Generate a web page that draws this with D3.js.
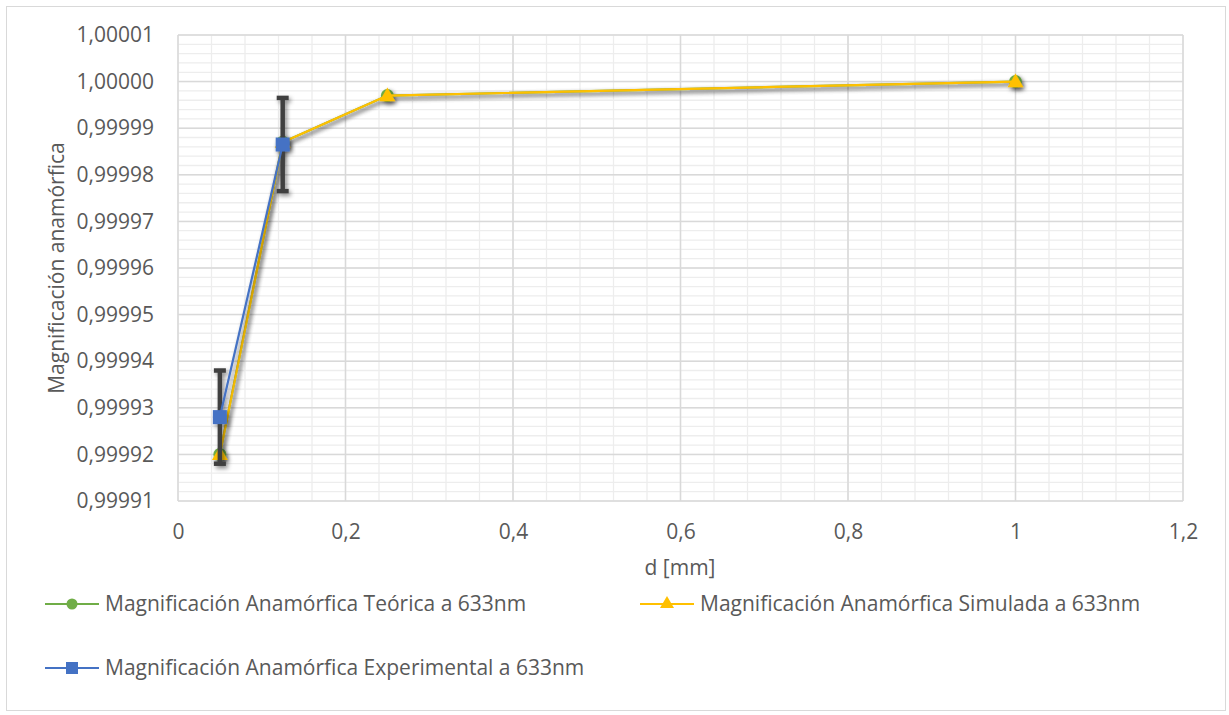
<!DOCTYPE html>
<html><head><meta charset="utf-8">
<script src="https://cdnjs.cloudflare.com/ajax/libs/d3/7.8.5/d3.min.js"></script>
<style>body{margin:0;background:#fff}svg{display:block}text{font-family:"Open Sans",sans-serif;fill:#595959}</style>
</head><body><svg id="c" width="1229" height="715"></svg>
<script>
const dValues = [0.05, 0.125, 0.25, 1];
const teorica = [0.999920, 0.999987, 0.999997, 1.000000];
const simulada = [0.999920, 0.999987, 0.999997, 1.000000];
const dExp = [0.05, 0.125];
const experimental = [0.999928, 0.9999865];
const expError = [0.00001, 0.00001];
const xTicks = [0, 0.2, 0.4, 0.6, 0.8, 1, 1.2];
const yTicks = [0.99991,0.99992,0.99993,0.99994,0.99995,0.99996,0.99997,0.99998,0.99999,1.00000,1.00001];
const seriesNames = ["Magnificación Anamórfica Teórica a 633nm","Magnificación Anamórfica Simulada a 633nm","Magnificación Anamórfica Experimental a 633nm"];
const xTitle = "d [mm]", yTitle = "Magnificación anamórfica";

const FS = 21;
const svg = d3.select("#c");
const L=178,R=1183,T=35,B=501;
const x = d3.scaleLinear().domain([0,1.2]).range([L,R]);
const y = d3.scaleLinear().domain([0.99991,1.00001]).range([B,T]);
const fmt = v => d3.format(".5f")(v).replace(".", ",");
const fmtx = v => (v===0||v===1) ? String(v) : String(v).replace(".", ",");

const defs = svg.append("defs");
const f = defs.append("filter").attr("id","sh").attr("x","-50%").attr("y","-50%").attr("width","200%").attr("height","200%");
f.append("feDropShadow").attr("dx",2).attr("dy",2.5).attr("stdDeviation",2).attr("flood-color","#000").attr("flood-opacity",0.45);

svg.append("rect").attr("x",6.5).attr("y",6.5).attr("width",1219).attr("height",704).attr("fill","#fff").attr("stroke","#d9d9d9");

const xMinor = d3.range(0,1.2001,0.04);
const yMinor = d3.range(0,51).map(i=>0.99991+i*0.000002);
svg.append("g").selectAll("line").data(xMinor).join("line")
  .attr("x1",d=>x(d)).attr("x2",d=>x(d)).attr("y1",T).attr("y2",B).attr("stroke","#ededed").attr("stroke-width",1.3);
svg.append("g").selectAll("line").data(yMinor).join("line")
  .attr("y1",d=>y(d)).attr("y2",d=>y(d)).attr("x1",L).attr("x2",R).attr("stroke","#ededed").attr("stroke-width",1.3);
svg.append("g").selectAll("line").data(xTicks).join("line")
  .attr("x1",d=>x(d)).attr("x2",d=>x(d)).attr("y1",T).attr("y2",B).attr("stroke","#d9d9d9").attr("stroke-width",1.5);
svg.append("g").selectAll("line").data(yTicks).join("line")
  .attr("y1",d=>y(d)).attr("y2",d=>y(d)).attr("x1",L).attr("x2",R).attr("stroke","#d9d9d9").attr("stroke-width",1.5);

const ya = svg.append("g").attr("transform",`translate(${L},0)`)
  .call(d3.axisLeft(y).tickValues(yTicks).tickFormat(fmt).tickSize(0).tickPadding(24));
ya.select(".domain").remove();
ya.selectAll("text").attr("font-size",FS).attr("font-family","Open Sans").attr("fill","#595959");
const xa = svg.append("g").attr("transform",`translate(0,${B})`)
  .call(d3.axisBottom(x).tickValues(xTicks).tickFormat(fmtx).tickSize(0).tickPadding(23));
xa.select(".domain").remove();
xa.selectAll("text").attr("font-size",FS).attr("font-family","Open Sans").attr("fill","#595959");

svg.append("text").attr("x",680).attr("y",568).attr("dy","0.35em").attr("text-anchor","middle").attr("font-size",FS).text(xTitle);
svg.append("text").attr("transform","translate(57,268) rotate(-90)").attr("dy","0.35em").attr("text-anchor","middle").attr("font-size",FS).text(yTitle);

const line = d3.line().x(d=>x(d[0])).y(d=>y(d[1]));
const tri = d3.symbol().type(d3.symbolTriangle).size(110);

const g1 = svg.append("g").attr("filter","url(#sh)");
g1.append("path").datum(d3.zip(dValues,teorica)).attr("d",line).attr("fill","none").attr("stroke","#70AD47").attr("stroke-width",2.2);
g1.selectAll("circle").data(d3.zip(dValues,teorica)).join("circle").attr("cx",d=>x(d[0])).attr("cy",d=>y(d[1])).attr("r",6.5).attr("fill","#70AD47");
const g2 = svg.append("g").attr("filter","url(#sh)");
g2.append("path").datum(d3.zip(dValues,simulada)).attr("d",line).attr("fill","none").attr("stroke","#FFC000").attr("stroke-width",2.2);
g2.selectAll("path.m").data(d3.zip(dValues,simulada)).join("path").attr("class","m").attr("d",tri).attr("transform",d=>`translate(${x(d[0])},${y(d[1])+1})`).attr("fill","#FFC000");
const g3 = svg.append("g").attr("filter","url(#sh)");
const ed = dExp.map((d,i)=>({d, v:experimental[i], e:expError[i]}));
g3.selectAll("line.eb").data(ed).join("line").attr("class","eb").attr("x1",d=>x(d.d)).attr("x2",d=>x(d.d)).attr("y1",d=>y(d.v+d.e)).attr("y2",d=>y(d.v-d.e)).attr("stroke","#404040").attr("stroke-width",4.5);
g3.selectAll("line.c1").data(ed).join("line").attr("class","c1").attr("x1",d=>x(d.d)-6).attr("x2",d=>x(d.d)+6).attr("y1",d=>y(d.v+d.e)).attr("y2",d=>y(d.v+d.e)).attr("stroke","#404040").attr("stroke-width",4.5);
g3.selectAll("line.c2").data(ed).join("line").attr("class","c2").attr("x1",d=>x(d.d)-6).attr("x2",d=>x(d.d)+6).attr("y1",d=>y(d.v-d.e)).attr("y2",d=>y(d.v-d.e)).attr("stroke","#404040").attr("stroke-width",4.5);
g3.append("path").datum(d3.zip(dExp,experimental)).attr("d",line).attr("fill","none").attr("stroke","#4472C4").attr("stroke-width",2.2);
g3.selectAll("rect").data(d3.zip(dExp,experimental)).join("rect").attr("x",d=>x(d[0])-7).attr("y",d=>y(d[1])-7).attr("width",14).attr("height",14).attr("fill","#4472C4");

const leg = [
  {x:45, y:604, c:"#70AD47", m:"circle", t:seriesNames[0]},
  {x:640, y:604, c:"#FFC000", m:"tri", t:seriesNames[1]},
  {x:45, y:668, c:"#4472C4", m:"square", t:seriesNames[2]}
];
leg.forEach(l=>{
  const g = svg.append("g");
  g.append("line").attr("x1",l.x).attr("x2",l.x+54).attr("y1",l.y).attr("y2",l.y).attr("stroke",l.c).attr("stroke-width",2.2);
  const cx=l.x+27;
  if(l.m==="circle") g.append("circle").attr("cx",cx).attr("cy",l.y).attr("r",5.5).attr("fill",l.c);
  else if(l.m==="tri") g.append("path").attr("d",d3.symbol().type(d3.symbolTriangle).size(85)()).attr("transform",`translate(${cx},${l.y})`).attr("fill",l.c);
  else g.append("rect").attr("x",cx-6).attr("y",l.y-6).attr("width",12).attr("height",12).attr("fill",l.c);
  g.append("text").attr("x",l.x+60).attr("y",l.y).attr("dy","0.35em").attr("font-size",FS).text(l.t);
});
</script></body></html>
